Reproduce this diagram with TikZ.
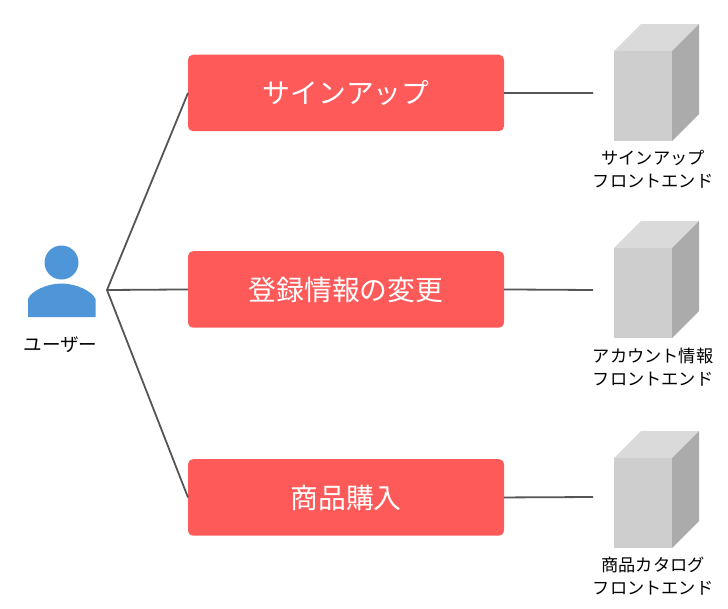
\documentclass[tikz,border=0pt]{standalone}
\usepackage{fontspec}
\setmainfont{Noto Sans CJK JP}
\newcommand{\boxtext}[1]{\raisebox{-10.8pt}[0pt][0pt]{#1}}
\tikzset{
  every node/.style={inner sep=0pt,outer sep=0pt},
  redbox/.style={fill=boxred,rounded corners=5pt,minimum width=316pt,minimum height=76.5pt,text=white,font=\fontsize{27.8}{30}\selectfont,anchor=north west},
  lbl/.style={font=\fontsize{17.2}{23.5}\selectfont,align=center,text=black},
  conn/.style={draw=linegray,line width=1.8pt},
  front/.style={fill=cubefront,minimum width=58pt,minimum height=90pt,anchor=north west},
  topface/.style={fill=cubetop},
  sideface/.style={fill=cubeside},
}
\definecolor{boxred}{HTML}{FF5A5A}
\definecolor{linegray}{HTML}{555555}
\definecolor{cubefront}{HTML}{CECECE}
\definecolor{cubetop}{HTML}{DADADA}
\definecolor{cubeside}{HTML}{ABABAB}
\definecolor{userblue}{HTML}{4F96D9}
\newcommand{\cubeat}[2]{%
  \fill[topface] (614,#2) -- ++(27,-27) -- ++(58,0) -- ++(-27,27) -- cycle;
  \fill[sideface] (672,#2) -- ++(27,-27) -- ++(0,90) -- ++(-27,27) -- cycle;
  \node[front] (#1) at (614,#2) {};
}
\begin{document}
\begin{tikzpicture}[x=1pt,y=-1pt]
\useasboundingbox (0,0) rectangle (728,608);
\node[redbox] (b1) at (188,54.7) {\boxtext{サインアップ}};
\node[redbox] (b2) at (188,251.2) {\boxtext{登録情報の変更}};
\node[redbox] (b3) at (188,459.2) {\boxtext{商品購入}};
\cubeat{c1}{51}
\cubeat{c2}{248}
\cubeat{c3}{458}
\coordinate (hub) at (107,290);
\coordinate (e1) at (593,93);
\coordinate (e2) at (593,290);
\coordinate (e3) at (593,497);
\draw[conn,line join=round] (b1.west) -- (hub) -- (b3.west);
\draw[conn] (hub) -- (b2.west);
\draw[conn] (b1.east) -- (e1);
\draw[conn] (b2.east) -- (e2);
\draw[conn] (b3.east) -- (e3);
% user icon
\fill[userblue] (61.5,262.5) circle (17);
\fill[userblue] (28,317) -- (28,299) .. controls (31,291) and (47,283.5) .. (61.5,283.5) .. controls (76,283.5) and (92,291) .. (95.5,299) -- (95.5,317) -- cycle;
\node[lbl,font=\fontsize{18.6}{24}\selectfont] (u) at (60.5,344.8) {ユーザー};
\node[lbl] (l1) at (653,169) {サインアップ\\フロントエンド};
\node[lbl] (l2) at (653,367) {アカウント情報\\フロントエンド};
\node[lbl] (l3) at (653,576) {商品カタログ\\フロントエンド};
\end{tikzpicture}
\end{document}
